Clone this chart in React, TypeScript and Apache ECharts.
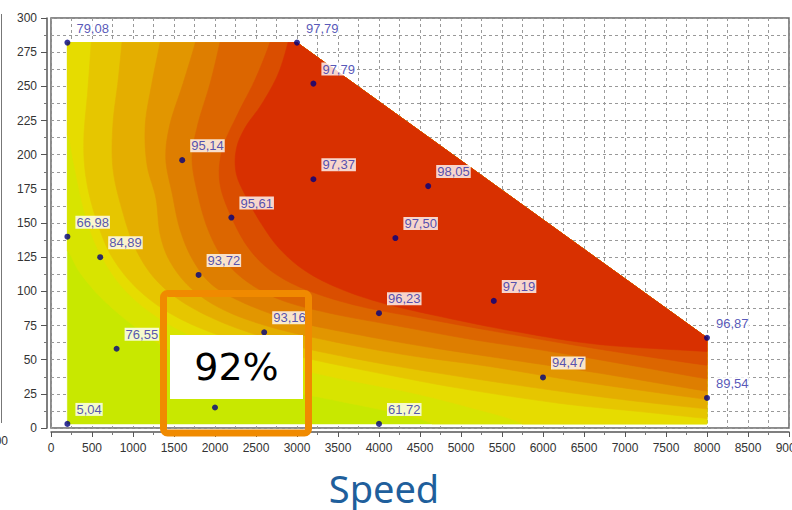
import React, { useEffect, useRef } from 'react';
import * as echarts from 'echarts';

// ---- measured operating points (speed rpm, torque, efficiency %) ----
const speed = [200, 3000, 3200, 1600, 3200, 4600, 2200, 200, 600, 4200, 1800, 5400, 4000, 2600, 800, 6000, 8000, 8000, 200, 4000, 2000];
const torque = [282, 282, 252, 196, 182, 177, 154, 140, 125, 139, 112, 93, 84, 70, 58, 37, 66, 22, 3, 3, 15];
const efficiency: (number | null)[] = [79.08, 97.79, 97.79, 95.14, 97.37, 98.05, 95.61, 66.98, 84.89, 97.5, 93.72, 97.19, 96.23, 93.16, 76.55, 94.47, 96.87, 89.54, 5.04, 61.72, null];

// ---- map outline (speed, torque) ----
const outlineSpeed = [200, 8000, 8000, 3000, 200];
const outlineTorque = [3, 3, 66, 282, 282];

// ---- contour bands, low -> high ----
const bandColors = ['#c8e800', '#d8e400', '#e6dc00', '#e6c600', '#e4ae00', '#e29600', '#de7e00', '#dc6600', '#da4e00', '#d83000'];

// ---- iso-lines [speed, torque] ----
const iso1 = [[0, 135], [195, 130], [350, 114], [600, 96], [960, 77], [1390, 59], [1940, 43], [2670, 30], [3400, 21], [4130, 12], [4620, 4], [4800, -8]];
const iso2 = [[0, 221], [195, 215], [280, 193], [400, 160], [570, 131], [870, 103], [1300, 81], [1880, 63], [2610, 49], [3460, 37], [4380, 26], [5110, 15], [5720, 4], [5900, -8]];
const iso3 = [[500, 292], [490, 282], [450, 248], [400, 211], [430, 182], [550, 153], [745, 125], [1085, 100], [1570, 80], [2240, 64], [3040, 52], [4010, 40], [4990, 29], [6210, 18], [7180, 12], [7990, 7], [8200, 6]];
const iso4 = [[880, 292], [865, 282], [820, 255], [755, 222], [755, 190], [865, 160], [1025, 132], [1270, 109], [1635, 91], [2180, 75], [2915, 61], [3770, 50], [4740, 40], [5840, 30], [6940, 21], [7990, 14], [8200, 13]];
const iso5 = [[1350, 292], [1330, 282], [1230, 252], [1150, 222], [1170, 193], [1280, 168], [1330, 142], [1450, 122], [1695, 103], [2085, 87], [2670, 74], [3460, 63], [4380, 53], [5350, 45], [6450, 34], [7990, 21], [8200, 20]];
const iso6 = [[1780, 292], [1760, 282], [1610, 252], [1450, 222], [1400, 197], [1480, 171], [1570, 146], [1720, 124], [1960, 105], [2370, 91], [2980, 78], [3770, 68], [4620, 59], [5600, 50], [6700, 40], [7990, 27], [8200, 26]];
const iso7 = [[2090, 292], [2060, 282], [1940, 252], [1790, 222], [1720, 197], [1790, 171], [1910, 146], [2090, 125], [2370, 108], [2790, 94], [3400, 84], [4200, 75], [5110, 65], [6090, 56], [7060, 46], [7990, 36], [8200, 34]];
const iso8 = [[2700, 292], [2670, 282], [2490, 255], [2280, 230], [2090, 204], [2060, 179], [2210, 153], [2430, 130], [2730, 113], [3160, 100], [3770, 89], [4560, 80], [5480, 70], [6450, 60], [7300, 52], [7990, 46], [8200, 45]];
const iso9 = [[2920, 292], [2890, 282], [2770, 259], [2570, 237], [2370, 220], [2260, 204], [2260, 186], [2390, 168], [2570, 149], [2790, 131], [3100, 115], [3520, 102], [4070, 91], [4870, 80], [5720, 70], [6700, 61], [7990, 56], [8200, 55]];
const isolines = [iso1, iso2, iso3, iso4, iso5, iso6, iso7, iso8, iso9];

// ---- axes ----
const xMin = 0, xMax = 9000, xStep = 500;
const yMin = 0, yMax = 300, yStep = 25;
const xTitle = 'Speed';
const highlightText = '92%';
const leftCutLabel = '900';

type Pt = number[];

// Catmull-Rom smoothing of a polyline (drawing only)
function smoothLine(pts: Pt[], steps = 8): Pt[] {
  if (pts.length < 3) return pts;
  const out: Pt[] = [];
  for (let i = 0; i < pts.length - 1; i++) {
    const p0 = pts[Math.max(0, i - 1)];
    const p1 = pts[i];
    const p2 = pts[i + 1];
    const p3 = pts[Math.min(pts.length - 1, i + 2)];
    for (let s = 0; s < steps; s++) {
      const t = s / steps;
      const t2 = t * t, t3 = t2 * t;
      const f = (a: number, b: number, c: number, d: number) =>
        0.5 * (2 * b + (-a + c) * t + (2 * a - 5 * b + 4 * c - d) * t2 + (-a + 3 * b - 3 * c + d) * t3);
      out.push([f(p0[0], p1[0], p2[0], p3[0]), f(p0[1], p1[1], p2[1], p3[1])]);
    }
  }
  out.push(pts[pts.length - 1]);
  return out;
}

function signedArea(p: Pt[]) {
  let a = 0;
  for (let i = 0; i < p.length; i++) {
    const q = p[(i + 1) % p.length];
    a += p[i][0] * q[1] - q[0] * p[i][1];
  }
  return a / 2;
}

function clipPolygon(subject: Pt[], clip: Pt[]): Pt[] {
  const sgn = signedArea(clip) > 0 ? 1 : -1;
  let output = subject.slice();
  for (let i = 0; i < clip.length; i++) {
    const A = clip[i];
    const B = clip[(i + 1) % clip.length];
    const side = (p: Pt) => (B[0] - A[0]) * (p[1] - A[1]) - (B[1] - A[1]) * (p[0] - A[0]);
    const inside = (p: Pt) => sgn * side(p) >= 0;
    const inter = (P: Pt, Q: Pt): Pt => {
      const d1 = side(P);
      const d2 = side(Q);
      const t = d1 / (d1 - d2);
      return [P[0] + t * (Q[0] - P[0]), P[1] + t * (Q[1] - P[1])];
    };
    const input = output;
    output = [];
    if (!input.length) break;
    let S = input[input.length - 1];
    for (const E of input) {
      if (inside(E)) {
        if (!inside(S)) output.push(inter(S, E));
        output.push(E);
      } else if (inside(S)) {
        output.push(inter(S, E));
      }
      S = E;
    }
  }
  return output;
}

export default function App() {
  const ref = useRef<HTMLDivElement>(null);
  useEffect(() => {
    if (!ref.current) return;
    const chart = echarts.init(ref.current, undefined, { renderer: 'svg' });
    const outline: Pt[] = outlineSpeed.map((s, i) => [s, outlineTorque[i]]);
    const bandPolygon = (i: number): Pt[] => {
      if (i === 0) return outline;
      const line = smoothLine(isolines[i - 1]);
      return [...line, [10000, -50], [10000, 400], [-500, 400]];
    };
    const labelFont = 'Liberation Sans, Arial, sans-serif';
    const dash = [3, 3];
    chart.setOption({
      animation: false,
      grid: {
        left: 51, right: 3, top: 18, bottom: 82, containLabel: false, outerBoundsMode: 'none',
        show: true, borderColor: '#666', borderWidth: 1.5, backgroundColor: 'transparent',
      },
      xAxis: {
        type: 'value', min: xMin, max: xMax, interval: xStep, offset: 4,
        axisLine: { show: true, onZero: false, lineStyle: { color: '#555', width: 1.5 } },
        axisTick: { show: true, length: 5, lineStyle: { color: '#555' } },
        minorTick: { show: true, splitNumber: 2, length: 3, lineStyle: { color: '#777' } },
        axisLabel: { color: '#333', fontSize: 12, fontFamily: labelFont, margin: 10, showMaxLabel: true, hideOverlap: false, formatter: (v: number) => String(v) },
        splitLine: { show: true, lineStyle: { color: '#999', type: dash, width: 1 } },
        minorSplitLine: { show: true, lineStyle: { color: '#999', type: dash, width: 1 } },
      },
      yAxis: {
        type: 'value', min: yMin, max: yMax, interval: yStep, offset: 4,
        axisLine: { show: true, onZero: false, lineStyle: { color: '#555', width: 1.5 } },
        axisTick: { show: true, length: 6, lineStyle: { color: '#555' } },
        minorTick: { show: true, splitNumber: 2, length: 3, lineStyle: { color: '#777' } },
        axisLabel: { color: '#333', fontSize: 12, fontFamily: labelFont, margin: 10, formatter: (v: number) => String(v) },
        splitLine: { show: true, lineStyle: { color: '#999', type: dash, width: 1 } },
        minorSplitLine: { show: true, lineStyle: { color: '#999', type: dash, width: 1 } },
      },
      series: [
        {
          type: 'custom',
          coordinateSystem: 'cartesian2d',
          silent: true,
          z: 2,
          data: bandColors.map((_, i) => [xMin, yMin, i]),
          renderItem: (params: any, api: any) => {
            const i = params.dataIndex;
            const clipped = clipPolygon(bandPolygon(i), outline);
            if (clipped.length < 3) return null;
            const pts = clipped.map((p) => api.coord(p));
            return {
              type: 'polygon',
              shape: { points: pts },
              style: { fill: bandColors[i], stroke: bandColors[i], lineWidth: 0.6 },
            };
          },
        },
        {
          type: 'scatter',
          z: 4,
          symbol: 'circle',
          symbolSize: 6,
          itemStyle: { color: '#000080' },
          data: speed.map((s, i) => [s, torque[i], efficiency[i]]),
          label: {
            show: true,
            position: [11, -18],
            formatter: (p: any) => (p.data[2] == null ? '' : Number(p.data[2]).toFixed(2).replace('.', ',')),
            color: '#2b2ba6',
            fontSize: 13,
            fontFamily: labelFont,
            backgroundColor: '#ffffff',
            padding: [0, 1],
            lineHeight: 13,
          },
        },
      ],
      graphic: {
        elements: [
          { type: 'line', z: 10, shape: { x1: 1.5, y1: 14, x2: 1.5, y2: 423 }, style: { stroke: '#777', lineWidth: 1 } },
          { type: 'text', z: 10, x: 8, y: 441, style: { text: leftCutLabel, fill: '#333', font: '12px Liberation Sans', align: 'right', verticalAlign: 'middle' } },
          { type: 'rect', z: 20, shape: { x: 170, y: 335, width: 133, height: 64 }, style: { fill: '#ffffff' } },
          { type: 'text', z: 21, x: 236.5, y: 367, style: { text: highlightText, fill: '#000', font: '38px DejaVu Sans', align: 'center', verticalAlign: 'middle' } },
          { type: 'rect', z: 22, shape: { x: 163.5, y: 293.5, width: 145, height: 139.5, r: 4 }, style: { fill: 'transparent', stroke: '#f08a00', lineWidth: 7 } },
          { type: 'text', z: 10, x: 384, y: 488, style: { text: xTitle, fill: '#1f5f9c', font: '38px Noto Sans', align: 'center', verticalAlign: 'middle' } },
        ],
      },
    });
    return () => chart.dispose();
  }, []);
  return <div ref={ref} style={{ width: 792, height: 510, position: 'absolute', left: 0, top: 0 }} />;
}
